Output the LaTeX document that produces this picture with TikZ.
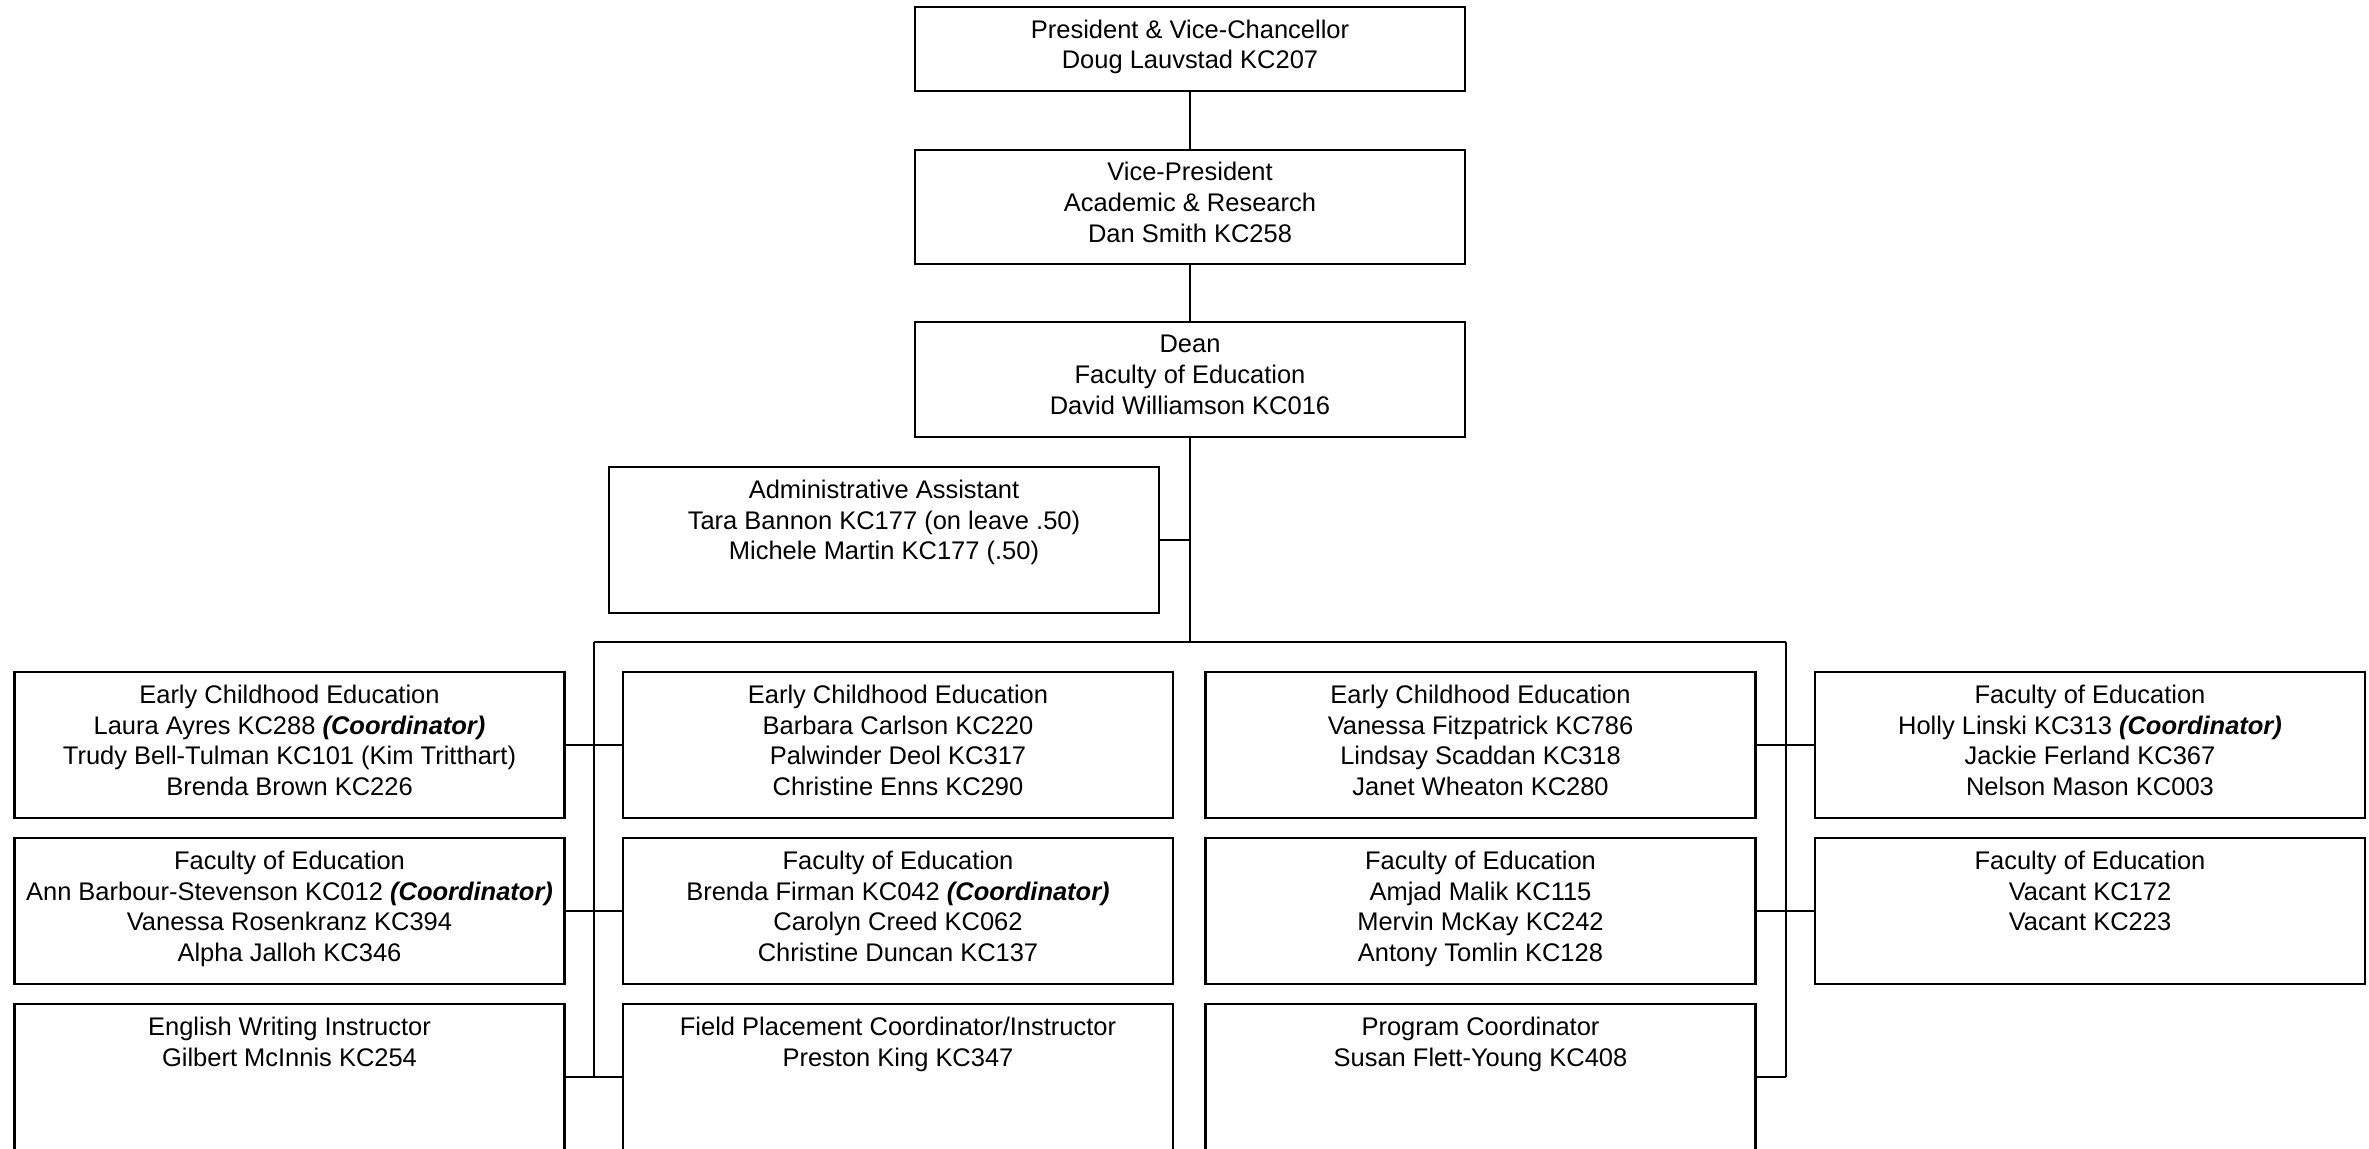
\documentclass[tikz,border=0pt]{standalone}
\usepackage{fontspec}
\setmainfont{Liberation Sans}
\usetikzlibrary{positioning}
\newcommand{\coordtag}{\textbf{\textit{(Coordinator)}}}

\begin{document}
\begin{tikzpicture}[semithick,node distance=1.66cm,
                    office/.style={draw,rectangle,align=center,minimum width=5.5cm,
                                   minimum height=1.46cm,inner sep=2pt,
                                   font=\fontsize{7.25}{8.73}\selectfont,
                                   execute at begin node={\rule{0pt}{7pt}},
                                   execute at end node=\strut}]
	\path[use as bounding box,fill=white] (0,0) rectangle (23.69,-11.48);
	% top of the tree
	\node[office,minimum height=0.84cm]	(p)	at (11.90,-0.49)	{President \& Vice-Chancellor\\Doug Lauvstad KC207};
	\node[office,minimum height=1.145cm]	(vp)	[below of = p, node distance=1.58cm]	{Vice-President\\Academic \& Research\\Dan Smith KC258};
	\node[office,minimum height=1.15cm]	(d)	[below of = vp, node distance=1.725cm]	{Dean\\Faculty of Education\\David Williamson KC016};
	\node[office]	(aa)	at (8.84,-5.40)	{Administrative Assistant\\Tara Bannon KC177 (on leave .50)\\Michele Martin KC177 (.50)\\~};
	% first row
	\node[office]	(a1)	at (2.895,-7.45)	{Early Childhood Education\\Laura Ayres KC288 \coordtag\\Trudy Bell-Tulman KC101 (Kim Tritthart)\\Brenda Brown KC226};
	\node[office]	(a2)	[right of = a1, node distance=6.085cm]	{Early Childhood Education\\Barbara Carlson KC220\\Palwinder Deol KC317\\Christine Enns KC290};
	\node[office]	(a3)	[right of = a2, node distance=5.825cm]	{Early Childhood Education\\Vanessa Fitzpatrick KC786\\Lindsay Scaddan KC318\\Janet Wheaton KC280};
	\node[office]	(a4)	[right of = a3, node distance=6.095cm]	{Faculty of Education\\Holly Linski KC313 \coordtag\\Jackie Ferland KC367\\Nelson Mason KC003};
	% second row
	\node[office]	(b1)	[below of = a1]	{Faculty of Education\\Ann Barbour-Stevenson KC012 \coordtag\\Vanessa Rosenkranz KC394\\Alpha Jalloh KC346};
	\node[office]	(b2)	[below of = a2]	{Faculty of Education\\Brenda Firman KC042 \coordtag\\Carolyn Creed KC062\\Christine Duncan KC137};
	\node[office]	(b3)	[below of = a3]	{Faculty of Education\\Amjad Malik KC115\\Mervin McKay KC242\\Antony Tomlin KC128};
	\node[office]	(b4)	[below of = a4]	{Faculty of Education\\Vacant KC172\\Vacant KC223\\~};
	% third row
	\node[office]	(c1)	[below of = b1]	{English Writing Instructor\\Gilbert McInnis KC254\\~\\~};
	\node[office]	(c2)	[below of = b2]	{Field Placement Coordinator/Instructor\\Preston King KC347\\~\\~};
	\node[office]	(c3)	[below of = b3]	{Program Coordinator\\Susan Flett-Young KC408\\~\\~};
	% lines
	\coordinate (l) at (5.94,-6.42);
	\coordinate (r) at (17.86,-6.42);
	\draw (p) -- (vp);
	\draw (vp) -- (d);
	\draw (d) -- (d |- l);
	\draw (aa) -- (aa -| d);
	\draw (l) -- (r);
	\draw (l) -- (l |- c1);
	\draw (r) -- (r |- c3);
	\draw (a1) -- (a2);
	\draw (b1) -- (b2);
	\draw (c1) -- (c2);
	\draw (a3) -- (a4);
	\draw (b3) -- (b4);
	\draw (c3) -- (c3 -| r);
\end{tikzpicture}
\end{document}
